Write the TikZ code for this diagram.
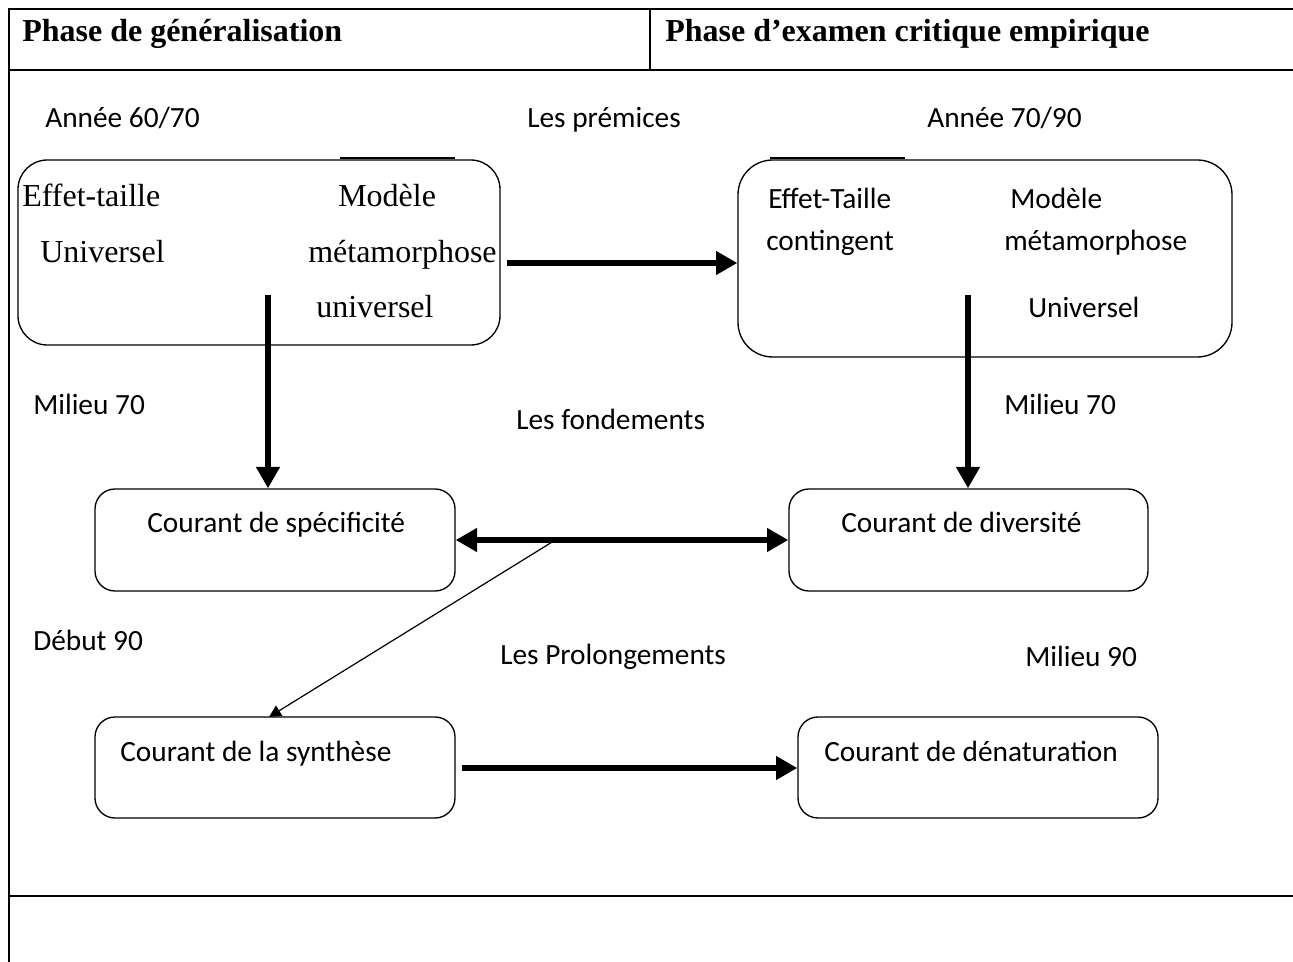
\documentclass[tikz,border=0pt]{standalone}
\usepackage{fontspec}
\setmainfont{Liberation Serif}
\newfontfamily\calfont{Carlito}
\usetikzlibrary{arrows.meta}
\begin{document}
\begin{tikzpicture}[x=0.75pt,y=-0.75pt,
  rule/.style={line width=2.2pt},
  thinrule/.style={line width=1.2pt},
  box/.style={draw,line width=1pt,inner sep=0pt,rounded corners=#1},
  lbl/.style={font=\calfont\fontsize{22}{24}\selectfont,anchor=base west,inner sep=0pt,yshift=-7.1pt},
  tms/.style={font=\fontsize{24}{26}\selectfont,anchor=base west,inner sep=0pt,yshift=-7.8pt},
  hdr/.style={font=\bfseries\fontsize{24}{26}\selectfont,anchor=base west,inner sep=0pt,yshift=-7.8pt},
  bigarrow/.style={line width=4.5pt,-{Triangle[length=16pt,width=17pt]}},
  bigdarrow/.style={line width=4.5pt,{Triangle[length=16pt,width=17pt]}-{Triangle[length=16pt,width=17pt]}},
  thinarrow/.style={line width=0.9pt,-{Triangle[length=9pt,width=9pt]}}]
\useasboundingbox (0,0) rectangle (1293,962);
% table
\draw[rule] (9,9) -- (1293,9);
\draw[rule] (9,70) -- (1293,70);
\draw[rule] (9,896) -- (1293,896);
\draw[thinrule] (9,8) -- (9,962);
\draw[thinrule] (650,9) -- (650,70);
\node[hdr] (h1) at (22,31) {Phase de généralisation};
\node[hdr] (h2) at (665,31) {Phase d’examen critique empirique};
% labels
\node[lbl] (l1) at (45,118) {Année 60/70};
\node[lbl] (l2) at (527,118) {Les prémices};
\node[lbl] (l3) at (927,118) {Année 70/90};
\node[lbl] (l4) at (33,405) {Milieu 70};
\node[lbl] (l5) at (516,420) {Les fondements};
\node[lbl] (l6) at (1004,405) {Milieu 70};
\node[lbl] (l7) at (33,641) {Début 90};
\node[lbl] (l8) at (500,655) {Les Prolongements};
\node[lbl] (l9) at (1025,657) {Milieu 90};
% boxes
\node[box=22pt,minimum width=0.75*482pt,minimum height=0.75*185pt] (b1) at (259,252.5) {};
\node[box=26pt,minimum width=0.75*494pt,minimum height=0.75*197pt] (b2) at (985,258.5) {};
\node[box=15pt,minimum width=0.75*360pt,minimum height=0.75*102pt] (b3) at (275,540) {};
\node[box=15pt,minimum width=0.75*359pt,minimum height=0.75*102pt] (b4) at (968.5,540) {};
\node[box=15pt,minimum width=0.75*360pt,minimum height=0.75*101pt] (b5) at (275,767.5) {};
\node[box=15pt,minimum width=0.75*360pt,minimum height=0.75*101pt] (b6) at (978,767.5) {};
\draw[line width=0.9pt] (340,158) -- (455,158);
\draw[line width=0.9pt] (770,158) -- (905,158);
% box 1 text
\node[tms] (t1a) at (22,196) {Effet-taille};
\node[tms] (t1b) at (40,252) {Universel};
\node[tms] (t1c) at (338,196) {Modèle};
\node[tms] (t1d) at (308,252) {métamorphose};
\node[tms] (t1e) at (316,307) {universel};
% box 2 text
\node[lbl] (t2a) at (768,199) {Effet-Taille};
\node[lbl] (t2b) at (766,241) {contingent};
\node[lbl] (t2c) at (1010,199) {Modèle};
\node[lbl] (t2d) at (1004,241) {métamorphose};
\node[lbl] (t2e) at (1028,308) {Universel};
% small box text
\node[lbl] (t3) at (147,523) {Courant de spécificité};
\node[lbl] (t4) at (841,523) {Courant de diversité};
\node[lbl] (t5) at (120,752) {Courant de la synthèse};
\node[lbl] (t6) at (824,752) {Courant de dénaturation};
% arrows
\coordinate (s1) at (268,295);
\coordinate (s2) at (507,263);
\coordinate (s3) at (968,295);
\coordinate (s5) at (557,539);
\coordinate (e5) at (269,717);
\coordinate (s6) at (462,768);
\draw[bigarrow] (s1) -- (s1 |- b3.north);
\draw[bigarrow] (s2) -- (s2 -| b2.west);
\draw[bigarrow] (s3) -- (s3 |- b4.north);
\draw[bigdarrow] (b3.east) -- (b4.west);
\draw[thinarrow] (s5) -- (e5);
\draw[bigarrow] (s6) -- (s6 -| b6.west);
\end{tikzpicture}
\end{document}
